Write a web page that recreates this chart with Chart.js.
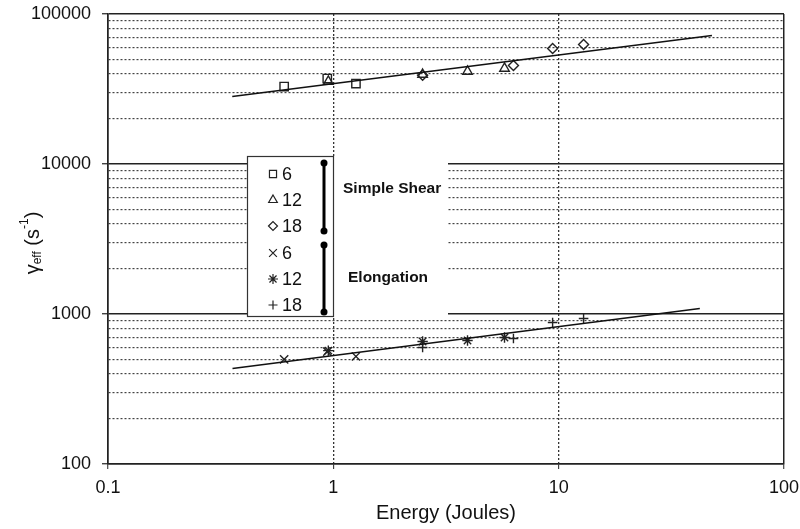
<!DOCTYPE html>
<html lang="en">
<head>
<meta charset="UTF-8">
<title>Effective shear rate vs energy</title>
<script src="https://cdn.jsdelivr.net/npm/chart.js"></script>
<style>
    body {
        margin: 0;
        background: white;
        font-family: "Liberation Sans", Arial, sans-serif;
    }
    #wrap {
        width: 800px;
        height: 529px;
    }
</style>
</head>
<body>
<div id="wrap">
    <canvas id="gammaChart" width="800" height="529"></canvas>
</div>
<script>
// axis ticks
const xTicks = [0.1, 1, 10, 100];
const yTicks = [100, 1000, 10000, 100000];

// simple shear (open markers)
const shear6E = [0.605, 0.94, 1.26];
const shear6G = [32850, 37150, 34400];
const shear12E = [0.95, 2.49, 3.94, 5.75];
const shear12G = [35500, 39500, 41400, 43350];
const shear18E = [2.49, 6.3, 9.4, 12.9];
const shear18G = [39000, 45400, 58900, 62650];

// elongation
const elong6E = [0.605, 0.94, 1.26];
const elong6G = [498, 562, 521];
const elong12E = [0.95, 2.49, 3.94, 5.75];
const elong12G = [570, 656, 666, 697];
const elong18E = [2.49, 6.3, 9.4, 12.9];
const elong18G = [598, 687, 878, 933];

// fitted power-law lines (end points)
const shearFitE = [0.356, 47.9];
const shearFitG = [28200, 71900];
const elongFitE = [0.357, 42.3];
const elongFitG = [433, 1088];

const legendRows = [
    { style: 'rect', r: 5, label: '6' },
    { style: 'triangle', r: 5, label: '12' },
    { style: 'rectRot', r: 4.5, label: '18' },
    { style: 'crossRot', r: 5.5, label: '6' },
    { style: 'star', r: 5, label: '12' },
    { style: 'cross', r: 4.5, label: '18' }
];

function pts(xs, ys) {
    return xs.map((x, i) => ({ x: x, y: ys[i] }));
}

function markerSet(xs, ys, style, r) {
    return {
        data: pts(xs, ys),
        showLine: false,
        pointStyle: style,
        pointRadius: r,
        pointBorderWidth: 1.4,
        pointBorderColor: '#222',
        pointBackgroundColor: 'rgba(0,0,0,0)'
    };
}

function fitLine(xs, ys) {
    return {
        data: pts(xs, ys),
        showLine: true,
        borderColor: '#111',
        borderWidth: 1.5,
        pointRadius: 0
    };
}

const isYMajor = v => yTicks.includes(v);
const isXInner = c => c.tick && (c.tick.value === 1 || c.tick.value === 10);
const FONT = '"Liberation Sans", Arial, sans-serif';

function noPad(scale) {
    scale.paddingTop = 0;
    scale.paddingBottom = 0;
    scale.paddingLeft = 0;
    scale.paddingRight = 0;
}

// legend box, bracket labels and y title with sub/superscript
const extras = {
    id: 'extras',
    afterDraw(chart) {
        const ctx = chart.ctx;
        ctx.save();

        // white panel hiding the grid behind the legend
        ctx.fillStyle = 'white';
        ctx.fillRect(247, 156, 201, 161);
        ctx.strokeStyle = '#333';
        ctx.lineWidth = 1.2;
        ctx.strokeRect(247.5, 156.5, 86, 160);

        const rowY = [174, 200, 226, 253, 279, 305];
        ctx.textBaseline = 'middle';
        ctx.textAlign = 'left';
        legendRows.forEach((row, i) => {
            ctx.strokeStyle = '#222';
            ctx.fillStyle = 'rgba(0,0,0,0)';
            ctx.lineWidth = 1.2;
            Chart.helpers.drawPoint(ctx, { pointStyle: row.style, radius: row.r, borderWidth: 1.2 }, 273, rowY[i]);
            ctx.font = '18px ' + FONT;
            ctx.fillStyle = '#111';
            ctx.fillText(row.label, 282, rowY[i] + 1);
        });

        // brackets
        ctx.strokeStyle = '#000';
        ctx.fillStyle = '#000';
        ctx.lineWidth = 3;
        [[163, 231], [245, 312]].forEach(([a, b]) => {
            ctx.beginPath();
            ctx.moveTo(324, a);
            ctx.lineTo(324, b);
            ctx.stroke();
            [a, b].forEach(y => {
                ctx.beginPath();
                ctx.arc(324, y, 3.5, 0, Math.PI * 2);
                ctx.fill();
            });
        });

        ctx.font = 'bold 15.5px ' + FONT;
        ctx.fillStyle = '#111';
        ctx.fillText('Simple Shear', 343, 189);
        ctx.fillText('Elongation', 348, 278);

        // x title
        ctx.font = '20px ' + FONT;
        ctx.textAlign = 'center';
        ctx.fillText('Energy (Joules)', (chart.chartArea.left + chart.chartArea.right) / 2, 513);

        // y title: gamma_eff (s^-1)
        ctx.translate(33, 243);
        ctx.rotate(-Math.PI / 2);
        const parts = [
            { t: '\u03b3', f: '20px ', dy: 0 },
            { t: 'eff', f: '12px ', dy: 5 },
            { t: ' (s', f: '20px ', dy: 0 },
            { t: '-1', f: '12px ', dy: -8 },
            { t: ')', f: '20px ', dy: 0 }
        ];
        let total = 0;
        parts.forEach(p => { ctx.font = p.f + FONT; total += ctx.measureText(p.t).width; });
        let x = -total / 2;
        ctx.textAlign = 'left';
        parts.forEach(p => {
            ctx.font = p.f + FONT;
            ctx.fillText(p.t, x, p.dy);
            x += ctx.measureText(p.t).width;
        });

        ctx.restore();
    }
};

new Chart(document.getElementById('gammaChart'), {
    type: 'scatter',
    data: {
        datasets: [
            fitLine(shearFitE, shearFitG),
            fitLine(elongFitE, elongFitG),
            markerSet(shear6E, shear6G, 'rect', 5.9),
            markerSet(shear12E, shear12G, 'triangle', 5.5),
            markerSet(shear18E, shear18G, 'rectRot', 5),
            markerSet(elong6E, elong6G, 'crossRot', 5.8),
            markerSet(elong12E, elong12G, 'star', 5.2),
            markerSet(elong18E, elong18G, 'cross', 4.8)
        ]
    },
    options: {
        responsive: false,
        animation: false,
        layout: { padding: { top: 14, right: 16, left: 0, bottom: 0 } },
        plugins: {
            legend: { display: false },
            tooltip: { enabled: false }
        },
        scales: {
            x: {
                type: 'logarithmic',
                min: 0.1,
                max: 100,
                afterBuildTicks: scale => { scale.ticks = xTicks.map(v => ({ value: v })); },
                afterFit: scale => { scale.height = 65; noPad(scale); },
                ticks: {
                    autoSkip: false,
                    maxRotation: 0,
                    padding: 8,
                    color: '#111',
                    font: { size: 18, family: FONT },
                    callback: v => String(v)
                },
                grid: {
                    drawTicks: true,
                    tickLength: 5,
                    color: c => isXInner(c) ? '#333' : '#222',
                    lineWidth: c => isXInner(c) ? 1.3 : 1.5,
                    tickColor: '#222',
                    tickWidth: 1
                },
                border: {
                    display: true,
                    color: '#222',
                    width: 1.5,
                    dash: c => isXInner(c) ? [2, 2] : []
                }
            },
            y: {
                type: 'logarithmic',
                min: 100,
                max: 100000,
                afterBuildTicks: scale => {
                    const t = [];
                    yTicks.forEach((d, i) => {
                        if (i < yTicks.length - 1) {
                            for (let k = 1; k < 10; k++) t.push({ value: d * k });
                        } else {
                            t.push({ value: d });
                        }
                    });
                    scale.ticks = t;
                },
                afterFit: scale => { scale.width = 108; noPad(scale); },
                ticks: {
                    autoSkip: false,
                    padding: 11,
                    color: '#111',
                    font: { size: 18, family: FONT },
                    callback: v => isYMajor(v) ? String(v) : ''
                },
                grid: {
                    drawTicks: true,
                    tickLength: 6,
                    color: c => (c.tick && isYMajor(c.tick.value)) ? '#222' : '#444',
                    lineWidth: c => (c.tick && isYMajor(c.tick.value)) ? 1.5 : 1.2,
                    tickColor: c => (c.tick && isYMajor(c.tick.value)) ? '#222' : 'rgba(0,0,0,0)',
                    tickWidth: 1.2
                },
                border: {
                    display: true,
                    color: '#222',
                    width: 1.5,
                    dash: c => (c.tick && !isYMajor(c.tick.value)) ? [2, 2] : []
                }
            }
        }
    },
    plugins: [extras]
});
</script>
</body>
</html>
